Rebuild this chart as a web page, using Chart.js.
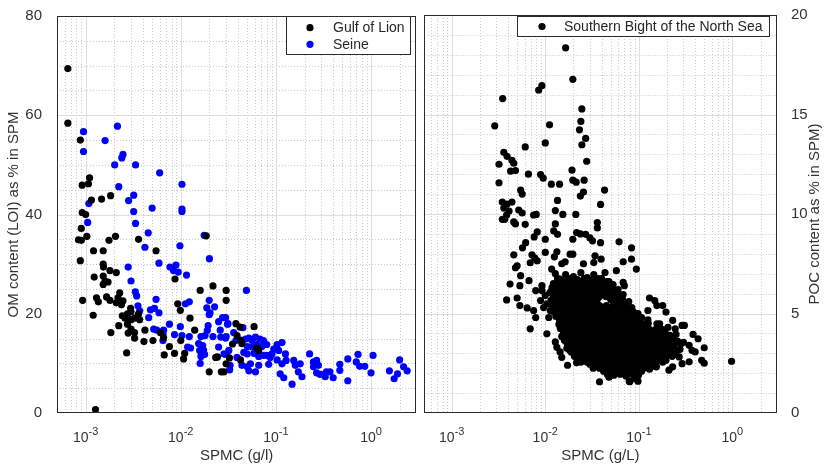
<!DOCTYPE html>
<html>
<head>
<meta charset="utf-8">
<script src="https://cdn.jsdelivr.net/npm/chart.js@4.4.1/dist/chart.umd.min.js"></script>
<style>
  html, body { margin: 0; padding: 0; background: #fff; }
  #wrap { position: relative; width: 825px; height: 468px; }
  #left { position: absolute; left: 0; top: 0; }
  #right { position: absolute; left: 420px; top: 0; }
</style>
</head>
<body>
<div id="wrap">
  <canvas id="left" width="420" height="468"></canvas>
  <canvas id="right" width="405" height="468"></canvas>
</div>
<script>
// ---- data: [SPMC, content %] ----
const gulfPoints = [
  [6.5e-4,69.4],[6.5e-4,58.4],[8.8e-4,55.0],[1.1e-3,47.4],[9.2e-4,45.9],[1.07e-3,46.2],[1.15e-3,42.9],
  [1.47e-3,43.1],[1.83e-3,43.8],[9.2e-4,40.4],[1.0e-3,40.0],[9.0e-4,37.2],[1.03e-3,35.6],[8.4e-4,34.9],
  [9.0e-4,34.8],[2.06e-3,35.6],[1.76e-3,34.8],[3.6e-3,35.0],[0.0185,35.7],[1.21e-3,32.7],[1.53e-3,32.7],
  [5.5e-3,32.7],[8.8e-4,30.7],[1.53e-3,30.0],[1.54e-3,29.4],[1.8e-3,28.7],[2.1e-3,28.3],[1.23e-3,27.4],
  [1.53e-3,27.6],[1.6e-3,26.6],[1.72e-3,26.4],[1.53e-3,25.9],[8.7e-3,27.0],[0.016,24.7],[0.0218,25.6],
  [0.030,24.7],[9.3e-4,22.7],[1.3e-3,23.2],[1.66e-3,23.4],[2.28e-3,24.2],[2.19e-3,23.2],[1.36e-3,22.4],
  [1.8e-3,22.7],[2.1e-3,22.2],[2.47e-3,22.6],[2.38e-3,21.8],[1.2e-3,19.7],[2.97e-3,21.1],[3.0e-3,20.4],
  [2.75e-3,20.0],[2.43e-3,19.6],[2.6e-3,19.1],[3.0e-3,18.8],[3.27e-3,19.1],[3.7e-3,18.8],[3.6e-3,20.0],
  [2.23e-3,17.6],[2.75e-3,17.9],[3.0e-3,16.9],[2.8e-3,16.1],[3.27e-3,16.2],[1.84e-3,16.2],[4.2e-3,16.7],
  [3.27e-3,15.1],[4.1e-3,14.4],[5.1e-3,14.6],[6.1e-3,16.2],[6.6e-3,15.2],[2.7e-3,12.1],[7.6e-3,13.4],
  [6.7e-3,11.7],[8.6e-3,12.0],[0.010,14.6],[9.3e-3,22.0],[9.9e-3,20.7],[0.0125,19.1],[0.014,16.7],
  [0.0107,10.9],[0.011,12.0],[0.0199,8.3],[0.0267,8.3],[0.0233,11.2],[0.0243,11.3],[0.030,9.9],
  [0.030,22.7],[1.27e-3,0.7],[0.038,18.0],[0.059,17.4],[0.039,15.6],[0.0425,14.7],[0.044,14.0],
  [0.035,13.9],[0.0325,11.1],[0.0425,10.7],[0.0285,8.3],[0.063,13.1],[0.066,12.6],[0.042,17.3]
];

const seinePoints = [
  [9.5e-4,56.7],[2.16e-3,57.8],[1.6e-3,54.9],[9.5e-4,52.7],[2.47e-3,52.1],[2.4e-3,51.4],[2.02e-3,50.0],
  [3.35e-3,50.0],[6.0e-3,48.4],[0.0103,46.1],[2.23e-3,45.6],[3.2e-3,43.9],[2.83e-3,42.8],[1.08e-3,42.2],
  [5.0e-3,41.3],[0.0103,41.1],[0.0103,40.6],[3.2e-3,40.6],[1.05e-3,38.4],[3.35e-3,38.2],[4.55e-3,36.3],
  [0.0176,35.8],[4.2e-3,33.4],[9.8e-3,33.7],[0.020,31.1],[5.9e-3,30.2],[7.7e-3,29.4],[8.9e-3,29.8],
  [8.4e-3,28.7],[9.4e-3,28.4],[0.0115,27.8],[2.8e-3,29.4],[3.0e-3,26.6],[3.33e-3,24.4],[3.44e-3,23.6],
  [5.5e-3,22.9],[3.55e-3,21.6],[3.7e-3,20.6],[4.8e-3,20.8],[5.3e-3,21.1],[5.9e-3,20.2],[0.0112,22.0],
  [0.0123,22.4],[0.0199,22.7],[0.0188,21.2],[0.0227,21.4],[0.0203,20.2],[0.0199,19.8],[4.6e-3,19.2],
  [5.2e-3,16.9],[5.6e-3,16.7],[6.6e-3,16.7],[7.6e-3,17.9],[6.5e-3,15.9],[9.9e-3,17.4],[8.6e-3,15.8],
  [0.0103,15.6],[0.0123,15.4],[6.5e-3,14.6],[0.0118,13.3],[0.0127,13.1],[0.0163,15.4],[0.018,15.6],
  [0.0218,15.4],[0.0263,15.3],[0.030,15.4],[0.0154,14.0],[0.017,13.6],[0.0158,12.6],[0.0174,12.7],
  [0.0163,11.4],[0.016,10.0],[0.0178,11.8],[0.0194,17.6],[0.019,16.6],[0.025,18.4],[0.0275,19.2],
  [0.031,17.9],[0.026,16.7],[0.025,13.3],[0.0297,11.8],[0.032,12.6],[0.0327,8.7],[0.033,9.6],
  [0.049,24.7],[0.0296,19.2],[0.0314,18.0],[0.0296,15.1],[0.036,16.2],[0.045,17.2],[0.038,14.6],
  [0.048,14.9],[0.052,15.1],[0.056,14.6],[0.061,15.3],[0.068,14.9],[0.074,14.6],[0.080,13.8],
  [0.071,13.4],[0.063,13.8],[0.056,13.3],[0.050,13.4],[0.095,12.9],[0.103,13.8],[0.116,14.2],
  [0.107,12.6],[0.091,11.9],[0.081,11.6],[0.126,11.9],[0.128,10.6],[0.0285,11.9],[0.039,11.2],
  [0.046,12.2],[0.050,11.9],[0.059,12.0],[0.066,11.4],[0.074,11.6],[0.087,11.2],[0.044,9.6],
  [0.050,9.3],[0.054,9.9],[0.061,8.3],[0.066,9.6],[0.084,9.8],[0.052,8.5],[0.103,10.7],[0.116,9.9],
  [0.111,7.9],[0.121,7.1],[0.148,5.8],[0.154,10.6],[0.16,9.6],[0.18,9.9],[0.172,8.3],[0.188,7.3],
  [0.226,11.9],[0.248,10.3],[0.268,10.6],[0.248,9.3],[0.28,9.6],[0.268,8.1],[0.29,7.8],[0.32,7.8],
  [0.34,8.3],[0.33,7.3],[0.40,7.1],[0.37,8.3],[0.47,9.8],[0.47,8.6],[0.57,10.9],[0.73,11.8],
  [0.70,10.3],[0.76,9.4],[0.86,9.4],[1.05,11.6],[1.0,8.1],[0.57,6.5],[1.56,8.5],[1.75,6.9],
  [1.9,7.9],[2.0,10.7],[2.2,9.3],[2.4,8.5]
];

// Southern Bight of the North Sea: scattered points
const sbnsPoints = [
  [0.0165,18.35],[0.0197,16.77],[0.0092,16.45],[0.0085,16.23],[0.0035,15.8],[0.0246,15.28],[0.00288,14.43],
  [0.0111,14.48],[0.024,14.65],[0.0232,14.23],[0.027,13.8],[0.0246,13.48],[0.010,13.57],[0.0061,13.37],
  [0.0036,13.1],[0.0039,12.9],[0.0044,12.7],[0.0046,12.55],[0.0032,12.5],[0.0277,12.65],[0.00426,12.15],
  [0.0048,12.18],[0.0066,12.0],[0.0089,11.98],[0.0095,11.8],[0.0193,12.2],[0.0197,11.7],[0.0214,11.6],
  [0.026,11.7],[0.0116,11.5],[0.0142,11.5],[0.0032,11.57],[0.043,11.2],[0.00545,11.2],[0.00566,11.0],
  [0.0256,11.1],[0.0237,10.9],[0.00347,10.6],[0.0039,10.5],[0.0044,10.6],[0.0135,10.68],[0.039,10.48],
  [0.0036,10.3],[0.0041,10.15],[0.00386,9.95],[0.0052,10.2],[0.00566,10.05],[0.0075,9.95],[0.008,9.98],
  [0.0128,10.17],[0.0154,9.98],[0.0212,9.98],[0.00347,9.73],[0.00368,9.73],[0.0046,9.6],[0.0048,9.5],
  [0.0061,9.48],[0.0128,9.5],[0.036,9.57],[0.036,9.3],[0.0082,9.1],[0.0076,8.85],[0.00616,8.56],
  [0.0057,8.3],[0.0123,9.15],[0.0135,8.98],[0.010,8.73],[0.0197,8.73],[0.0216,9.07],[0.0046,7.95],
  [0.005,7.4],[0.0048,7.3],[0.00545,6.9],[0.0072,7.95],[0.0077,7.8],[0.0069,7.55],[0.0082,7.65],
  [0.010,8.07],[0.0133,8.1],[0.0125,7.85],[0.015,7.5],[0.0163,7.6],[0.0184,7.98],[0.0117,7.23],
  [0.0128,7.0],[0.0144,6.73],[0.0042,6.48],[0.00535,6.4],[0.0067,6.65],[0.0092,6.4],[0.0079,6.15],
  [0.00386,5.68],[0.005,5.78],[0.00535,5.4],[0.0064,5.28],[0.0075,5.15],[0.0092,6.15],[0.010,5.9],
  [0.0117,6.15],[0.0089,5.65],[0.0104,5.48],[0.0113,5.15],[0.0096,5.3],[0.0069,4.23],[0.0104,3.98],
  [0.0079,4.8],[0.0109,4.8],[0.0133,3.3],[0.015,2.8],[0.0173,2.4],[0.0128,3.57],[0.0144,3.07],
  [0.0237,9.0],[0.027,8.98],[0.030,8.8],[0.032,8.65],[0.039,8.56],[0.0615,8.6],[0.0835,8.3],
  [0.0835,7.73],[0.068,7.6],[0.094,7.23],[0.0197,7.98],[0.0256,7.5],[0.034,7.9],[0.033,7.56],
  [0.0395,7.73],[0.0435,7.06],[0.0575,7.15],[0.068,6.56],[0.070,6.4],[0.13,5.78],[0.148,5.65],
  [0.156,5.4],[0.125,5.15],[0.107,4.8],[0.125,4.68],[0.156,4.48],[0.16,4.15],[0.038,1.57],[0.050,2.07],
  [0.054,2.32],[0.068,1.98],[0.080,1.57],[0.090,1.73],[0.102,2.65],[0.114,2.32],[0.0216,2.52],
  [0.0256,3.07],[0.0275,3.23],[0.142,2.65],[0.135,2.98],[0.18,5.4],[0.195,5.07],[0.307,4.4],[0.38,3.95],
  [0.43,3.73],[0.5,3.28],[0.345,3.4],[0.37,3.15],[0.40,3.07],[0.47,2.65],[0.98,2.6],[0.167,4.48],
  [0.23,4.65],[0.245,4.23],[0.29,4.4],[0.154,2.32],[0.21,2.15],[0.23,2.32],[0.29,2.48],[0.345,2.57],
  [0.27,2.82],[0.5,2.5],[0.048,1.8],[0.053,2.15],[0.079,1.6],[0.098,1.6]
];

// Southern Bight of the North Sea: the dense core of the cloud
const sbnsCorePoints = [
  [0.0135,6.75],[0.0165,6.95],[0.02,6.85],[0.024,7.05],[0.028,6.8],[0.033,6.95],[0.04,6.75],[0.048,6.6],
  [0.015,6.65],[0.018,6.75],[0.022,6.7],[0.026,6.75],[0.0305,6.65],[0.0365,6.75],[0.044,6.55],
  [0.0122,6.5],[0.0145,6.6],[0.017,6.6],[0.02,6.6],[0.0235,6.6],[0.0275,6.6],[0.032,6.6],[0.038,6.6],[0.045,6.6],[0.053,6.45],
  [0.0133,6.45],[0.0157,6.45],[0.0185,6.45],[0.0217,6.45],[0.0255,6.45],[0.0297,6.45],[0.035,6.45],[0.041,6.45],[0.049,6.45],
  [0.0118,6.3],[0.0138,6.3],[0.016,6.3],[0.019,6.3],[0.022,6.3],[0.026,6.3],[0.031,6.3],[0.036,6.3],[0.042,6.3],[0.05,6.3],[0.06,6.2],
  [0.0128,6.15],[0.0149,6.15],[0.0175,6.15],[0.0205,6.15],[0.024,6.15],[0.0285,6.15],[0.0335,6.15],[0.039,6.15],[0.046,6.15],[0.055,6.15],
  [0.0112,6.05],[0.0132,6.0],[0.0155,6.0],[0.018,6.0],[0.021,6.0],[0.025,6.0],[0.03,6.0],[0.035,6.0],[0.041,6.0],[0.048,6.0],[0.057,6.0],[0.068,5.95],
  [0.0122,5.85],[0.0143,5.85],[0.0167,5.85],[0.0195,5.85],[0.023,5.85],[0.0275,5.85],[0.0325,5.85],[0.038,5.85],[0.0445,5.85],[0.052,5.85],[0.062,5.85],
  [0.0115,5.65],[0.0135,5.7],[0.016,5.7],[0.0188,5.7],[0.022,5.7],[0.026,5.7],[0.031,5.7],[0.036,5.7],[0.05,5.7],[0.058,5.7],[0.067,5.7],[0.078,5.6],
  [0.0125,5.55],[0.0147,5.55],[0.0174,5.55],[0.0204,5.55],[0.024,5.55],[0.0285,5.55],[0.0335,5.55],[0.054,5.55],[0.0625,5.55],[0.072,5.55],
  [0.012,5.4],[0.014,5.4],[0.0165,5.4],[0.0195,5.4],[0.023,5.4],[0.027,5.4],[0.032,5.4],[0.038,5.4],[0.045,5.4],[0.053,5.4],[0.062,5.4],[0.072,5.4],[0.084,5.3],
  [0.013,5.25],[0.0152,5.25],[0.018,5.25],[0.021,5.25],[0.025,5.25],[0.0295,5.25],[0.035,5.25],[0.0415,5.25],[0.049,5.25],[0.0575,5.25],[0.067,5.25],[0.078,5.25],
  [0.0125,5.05],[0.0148,5.1],[0.0175,5.1],[0.0205,5.1],[0.024,5.1],[0.028,5.1],[0.033,5.1],[0.039,5.1],[0.046,5.1],[0.054,5.1],[0.063,5.1],[0.074,5.1],[0.087,5.1],[0.098,5.0],
  [0.0136,4.95],[0.016,4.95],[0.019,4.95],[0.0222,4.95],[0.026,4.95],[0.0305,4.95],[0.036,4.95],[0.0425,4.95],[0.05,4.95],[0.0585,4.95],[0.068,4.95],[0.08,4.95],[0.092,4.95],
  [0.013,4.85],[0.0155,4.8],[0.018,4.8],[0.021,4.8],[0.025,4.8],[0.029,4.8],[0.034,4.8],[0.04,4.8],[0.047,4.8],[0.055,4.8],[0.065,4.8],[0.076,4.8],[0.089,4.8],[0.1,4.8],
  [0.0142,4.65],[0.0167,4.65],[0.0195,4.65],[0.023,4.65],[0.027,4.65],[0.0315,4.65],[0.037,4.65],[0.0435,4.65],[0.051,4.65],[0.06,4.65],[0.0705,4.65],[0.082,4.65],[0.095,4.65],
  [0.014,4.45],[0.0165,4.5],[0.019,4.5],[0.022,4.5],[0.026,4.5],[0.03,4.5],[0.035,4.5],[0.041,4.5],[0.048,4.5],[0.057,4.5],[0.067,4.5],[0.078,4.5],[0.092,4.5],[0.108,4.5],[0.126,4.5],
  [0.0152,4.35],[0.0177,4.35],[0.0205,4.35],[0.024,4.35],[0.028,4.35],[0.0325,4.35],[0.038,4.35],[0.0445,4.35],[0.052,4.35],[0.062,4.35],[0.0725,4.35],[0.085,4.35],[0.1,4.35],[0.117,4.35],
  [0.0145,4.25],[0.017,4.2],[0.02,4.2],[0.023,4.2],[0.027,4.2],[0.031,4.2],[0.036,4.2],[0.043,4.2],[0.05,4.2],[0.059,4.2],[0.069,4.2],[0.081,4.2],[0.095,4.2],[0.112,4.2],[0.13,4.2],[0.152,4.2],[0.178,4.2],[0.205,4.3],
  [0.0157,4.05],[0.0185,4.05],[0.0215,4.05],[0.025,4.05],[0.029,4.05],[0.0335,4.05],[0.0395,4.05],[0.0465,4.05],[0.0545,4.05],[0.064,4.05],[0.075,4.05],[0.088,4.05],[0.103,4.05],[0.121,4.05],[0.141,4.05],[0.165,4.05],[0.191,4.05],
  [0.015,3.85],[0.0175,3.9],[0.0205,3.9],[0.024,3.9],[0.028,3.9],[0.033,3.9],[0.038,3.9],[0.045,3.9],[0.052,3.9],[0.061,3.9],[0.072,3.9],[0.084,3.9],[0.098,3.9],[0.115,3.9],[0.135,3.9],[0.158,3.9],[0.185,3.9],[0.215,3.9],[0.25,3.95],
  [0.0162,3.75],[0.019,3.75],[0.0222,3.75],[0.026,3.75],[0.0305,3.75],[0.0355,3.75],[0.0415,3.75],[0.0485,3.75],[0.0565,3.75],[0.066,3.75],[0.078,3.75],[0.091,3.75],[0.106,3.75],[0.125,3.75],[0.146,3.75],[0.171,3.75],[0.2,3.75],[0.232,3.75],
  [0.016,3.65],[0.0185,3.6],[0.0215,3.6],[0.025,3.6],[0.029,3.6],[0.034,3.6],[0.04,3.6],[0.047,3.6],[0.055,3.6],[0.064,3.6],[0.075,3.6],[0.087,3.6],[0.102,3.6],[0.12,3.6],[0.14,3.6],[0.163,3.6],[0.19,3.6],[0.22,3.6],[0.26,3.6],[0.3,3.55],
  [0.0172,3.45],[0.02,3.45],[0.0232,3.45],[0.027,3.45],[0.0315,3.45],[0.037,3.45],[0.0435,3.45],[0.051,3.45],[0.0595,3.45],[0.069,3.45],[0.081,3.45],[0.094,3.45],[0.111,3.45],[0.13,3.45],[0.151,3.45],[0.176,3.45],[0.205,3.45],[0.24,3.45],[0.28,3.45],
  [0.017,3.25],[0.0195,3.3],[0.0225,3.3],[0.026,3.3],[0.031,3.3],[0.036,3.3],[0.042,3.3],[0.049,3.3],[0.057,3.3],[0.067,3.3],[0.078,3.3],[0.091,3.3],[0.106,3.3],[0.124,3.3],[0.145,3.3],[0.17,3.3],[0.2,3.3],[0.235,3.3],[0.275,3.2],
  [0.0182,3.15],[0.021,3.15],[0.0242,3.15],[0.0285,3.15],[0.0335,3.15],[0.039,3.15],[0.0455,3.15],[0.053,3.15],[0.062,3.15],[0.0725,3.15],[0.084,3.15],[0.098,3.15],[0.115,3.15],[0.134,3.15],[0.157,3.15],[0.185,3.15],[0.217,3.15],[0.255,3.15],
  [0.019,3.05],[0.022,3.0],[0.025,3.0],[0.029,3.0],[0.033,3.0],[0.038,3.0],[0.044,3.0],[0.052,3.0],[0.06,3.0],[0.07,3.0],[0.082,3.0],[0.095,3.0],[0.111,3.0],[0.13,3.0],[0.152,3.0],[0.178,3.0],[0.21,3.0],[0.245,2.95],
  [0.0205,2.85],[0.0235,2.85],[0.027,2.85],[0.031,2.85],[0.0355,2.85],[0.041,2.85],[0.048,2.85],[0.056,2.85],[0.065,2.85],[0.076,2.85],[0.088,2.85],[0.103,2.85],[0.12,2.85],[0.141,2.85],[0.165,2.85],[0.193,2.85],[0.227,2.85],
  [0.022,2.75],[0.026,2.7],[0.03,2.7],[0.035,2.7],[0.041,2.7],[0.048,2.7],[0.056,2.7],[0.065,2.7],[0.076,2.7],[0.089,2.7],[0.104,2.7],[0.121,2.7],[0.142,2.7],[0.166,2.7],[0.195,2.65],
  [0.024,2.55],[0.028,2.55],[0.0325,2.55],[0.038,2.55],[0.0445,2.55],[0.052,2.55],[0.06,2.55],[0.0705,2.55],[0.082,2.55],[0.096,2.55],[0.112,2.55],[0.131,2.55],[0.154,2.55],[0.18,2.55],
  [0.03,2.45],[0.035,2.4],[0.041,2.4],[0.048,2.4],[0.056,2.4],[0.065,2.4],[0.076,2.4],[0.089,2.4],[0.104,2.4],[0.121,2.4],[0.141,2.35],
  [0.0325,2.25],[0.038,2.25],[0.0445,2.25],[0.052,2.25],[0.06,2.25],[0.0705,2.25],[0.082,2.25],[0.096,2.25],[0.112,2.25],[0.13,2.2],
  [0.042,2.1],[0.05,2.05],[0.058,2.1],[0.068,2.0],[0.079,2.1],[0.092,2.05],[0.107,2.1],
  [0.046,1.95],[0.054,1.9],[0.063,1.95],[0.073,1.85],[0.085,1.95],[0.099,1.9]
];

// ---- axes ----
const xMin = 5e-4, xMax = 3;
const xTickValues = [1e-3, 1e-2, 1e-1, 1];
const xTickExponents = ['-3', '-2', '-1', '0'];
const leftYMax = 80, leftYStep = 20, leftYMinorStep = 5;
const rightYMax = 20, rightYStep = 5, rightYMinorStep = 1;

const FONT = '"Liberation Sans", Arial, sans-serif';
const TEXT = '#333333';

function toXY(points) {
  return points.map(p => ({ x: p[0], y: p[1] }));
}

// gridlines, box, legend and x tick labels (10 with superscript)
const figurePlugin = {
  id: 'figure',
  beforeDatasetsDraw(chart, args, opts) {
    const ctx = chart.ctx;
    const a = chart.chartArea;
    const xs = chart.scales.x, ys = chart.scales.y;
    ctx.save();
    ctx.lineWidth = 1;
    // minor x
    ctx.strokeStyle = '#cacaca';
    ctx.setLineDash([1, 2]);
    for (let e = -4; e <= 0; e++) {
      for (let m = 2; m <= 9; m++) {
        const v = m * Math.pow(10, e);
        if (v <= xMin || v >= xMax) continue;
        const px = Math.round(xs.getPixelForValue(v)) + 0.5;
        ctx.beginPath(); ctx.moveTo(px, a.top); ctx.lineTo(px, a.bottom); ctx.stroke();
      }
    }
    // minor y
    for (let v = opts.yMinor; v < opts.yMax; v += opts.yMinor) {
      if (v % opts.yStep === 0) continue;
      const py = Math.round(ys.getPixelForValue(v)) + 0.5;
      ctx.beginPath(); ctx.moveTo(a.left, py); ctx.lineTo(a.right, py); ctx.stroke();
    }
    // major
    ctx.setLineDash([]);
    ctx.strokeStyle = '#dedede';
    xTickValues.forEach(v => {
      const px = Math.round(xs.getPixelForValue(v)) + 0.5;
      ctx.beginPath(); ctx.moveTo(px, a.top); ctx.lineTo(px, a.bottom); ctx.stroke();
    });
    for (let v = opts.yStep; v < opts.yMax; v += opts.yStep) {
      const py = Math.round(ys.getPixelForValue(v)) + 0.5;
      ctx.beginPath(); ctx.moveTo(a.left, py); ctx.lineTo(a.right, py); ctx.stroke();
    }
    ctx.restore();
  },
  afterDraw(chart, args, opts) {
    const ctx = chart.ctx;
    const a = chart.chartArea;
    const xs = chart.scales.x;
    ctx.save();
    // box
    ctx.strokeStyle = '#2b2b2b';
    ctx.lineWidth = 1;
    ctx.strokeRect(Math.round(a.left) + 0.5, Math.round(a.top) + 0.5,
      Math.round(a.right - a.left) - 1, Math.round(a.bottom - a.top) - 1);

    // x tick labels
    ctx.fillStyle = TEXT;
    ctx.textBaseline = 'alphabetic';
    ctx.textAlign = 'left';
    xTickValues.forEach((v, i) => {
      const px = xs.getPixelForValue(v);
      ctx.font = '14px ' + FONT;
      const wBase = ctx.measureText('10').width;
      ctx.font = '11px ' + FONT;
      const wExp = ctx.measureText(xTickExponents[i]).width;
      const x0 = px - (wBase + wExp) / 2;
      ctx.font = '14px ' + FONT;
      ctx.fillText('10', x0, 441.5);
      ctx.font = '11px ' + FONT;
      ctx.fillText(xTickExponents[i], x0 + wBase, 434.5);
    });

    // legend box
    const lg = opts.legend;
    ctx.fillStyle = '#ffffff';
    ctx.fillRect(lg.x, lg.y, lg.w, lg.h);
    ctx.strokeStyle = '#2b2b2b';
    ctx.strokeRect(lg.x + 0.5, lg.y + 0.5, lg.w, lg.h);
    ctx.font = '14px ' + FONT;
    ctx.textBaseline = 'middle';
    lg.items.forEach(it => {
      ctx.fillStyle = it.color;
      ctx.beginPath();
      ctx.arc(lg.x + lg.dotX, it.y, 3.6, 0, Math.PI * 2);
      ctx.fill();
      ctx.fillStyle = '#262626';
      ctx.fillText(it.label, lg.x + lg.textX, it.y + 0.5);
    });

    // right-hand y title, reading bottom to top
    if (opts.rightTitle) {
      ctx.save();
      ctx.translate(opts.rightTitle.x, (a.top + a.bottom) / 2);
      ctx.rotate(-Math.PI / 2);
      ctx.font = '15px ' + FONT;
      ctx.fillStyle = TEXT;
      ctx.textAlign = 'center';
      ctx.textBaseline = 'middle';
      ctx.fillText(opts.rightTitle.text, 0, 0);
      ctx.restore();
    }
    ctx.restore();
  }
};

function pointStyle(color) {
  return { backgroundColor: color, borderWidth: 0, pointRadius: 3.6, pointHoverRadius: 3.6 };
}

// ---- left panel ----
new Chart(document.getElementById('left'), {
  type: 'scatter',
  data: {
    datasets: [
      Object.assign({ label: 'Gulf of Lion', data: toXY(gulfPoints) }, pointStyle('#000000')),
      Object.assign({ label: 'Seine', data: toXY(seinePoints) }, pointStyle('#0000ff'))
    ]
  },
  options: {
    responsive: false,
    animation: false,
    events: [],
    layout: { padding: { left: 0, right: 2, top: 12.5, bottom: 0 } },
    plugins: {
      legend: { display: false },
      tooltip: { enabled: false },
      figure: {
        yMax: leftYMax, yStep: leftYStep, yMinor: leftYMinorStep,
        legend: {
          x: 286, y: 16, w: 124, h: 38, dotX: 24, textX: 47,
          items: [
            { label: 'Gulf of Lion', color: '#000000', y: 27.7 },
            { label: 'Seine', color: '#0000ff', y: 44.3 }
          ]
        }
      }
    },
    scales: {
      x: {
        type: 'logarithmic', min: xMin, max: xMax,
        grid: { display: false }, border: { display: false },
        ticks: { display: false },
        title: { display: true, text: 'SPMC (g/l)', color: TEXT, font: { family: FONT, size: 15 }, padding: { top: 0, bottom: 3 } },
        afterFit: s => { s.height = 55; }
      },
      y: {
        min: 0, max: leftYMax,
        grid: { display: false }, border: { display: false },
        ticks: { stepSize: leftYStep, padding: 7, color: TEXT, font: { family: FONT, size: 15 } },
        title: { display: true, text: 'OM content (LOI) as % in SPM', color: TEXT, font: { family: FONT, size: 15 }, padding: { top: 5, bottom: 0 } },
        afterFit: s => { s.width = 57; }
      }
    }
  },
  plugins: [figurePlugin]
});

// ---- right panel ----
new Chart(document.getElementById('right'), {
  type: 'scatter',
  data: {
    datasets: [
      Object.assign({ label: 'Southern Bight of the North Sea', data: toXY(sbnsPoints.concat(sbnsCorePoints)) }, pointStyle('#000000'))
    ]
  },
  options: {
    responsive: false,
    animation: false,
    events: [],
    layout: { padding: { left: 3, right: 0, top: 12.5, bottom: 0 } },
    plugins: {
      legend: { display: false },
      tooltip: { enabled: false },
      figure: {
        yMax: rightYMax, yStep: rightYStep, yMinor: rightYMinorStep,
        rightTitle: { text: 'POC content as % in SPM)', x: 395 },
        legend: {
          x: 97, y: 16, w: 252, h: 20, dotX: 25, textX: 47,
          items: [
            { label: 'Southern Bight of the North Sea', color: '#000000', y: 26.5 }
          ]
        }
      }
    },
    scales: {
      x: {
        type: 'logarithmic', min: xMin, max: xMax,
        grid: { display: false }, border: { display: false },
        ticks: { display: false },
        title: { display: true, text: 'SPMC (g/L)', color: TEXT, font: { family: FONT, size: 15 }, padding: { top: 0, bottom: 3 } },
        afterFit: s => { s.height = 55; }
      },
      y: {
        position: 'right',
        min: 0, max: rightYMax,
        grid: { display: false }, border: { display: false },
        ticks: { stepSize: rightYStep, padding: 6, color: TEXT, font: { family: FONT, size: 15 } },
        afterFit: s => { s.width = 48; }
      }
    }
  },
  plugins: [figurePlugin]
});
</script>
</body>
</html>
